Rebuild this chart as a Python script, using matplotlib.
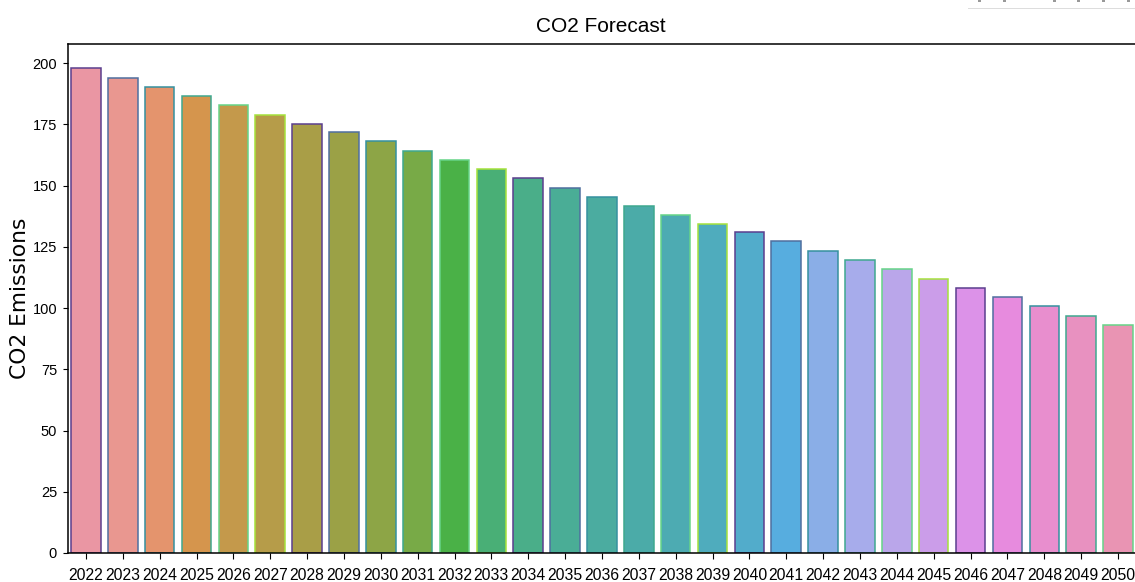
import matplotlib
matplotlib.use("Agg")
import matplotlib.pyplot as plt
from matplotlib.patches import Rectangle
import seaborn as sns

years = list(range(2022, 2051))
emissions = [198, 194, 190.3, 186.5, 182.7, 179, 175.2, 171.8, 168.2, 164.3,
             160.6, 156.8, 153, 149.2, 145.5, 141.8, 138, 134.2, 131, 127.2,
             123.4, 119.6, 115.8, 112, 108.2, 104.4, 100.7, 96.9, 93.2]
edge_cycle = ["#5b3f8e", "#4f6f9f", "#35919f", "#3fa88f", "#66d488", "#a6e23c"]
toolbar_icons = [979, 1004, 1054, 1078, 1103, 1128]

W, H = 1135, 582
ax_w = 1136.4 - 67.5
fig = plt.figure(figsize=(W / 100, H / 100), dpi=100)
ax = fig.add_axes([67.5 / W, (H - 553) / H, ax_w / W, (553 - 44) / H])

fills = [sns.desaturate(c, 0.75) for c in sns.husl_palette(len(years), l=0.7, s=0.9)]
edges = [edge_cycle[i % len(edge_cycle)] for i in range(len(years))]
xs = range(len(years))
ax.bar(xs, emissions, width=0.8, color=fills, edgecolor=edges, linewidth=1.1)

ax.set_xlim(-0.5, len(years) - 0.5)
ax.set_ylim(0, 207.8)
ax.set_xticks(list(xs))
ax.set_xticklabels(years, family="Liberation Sans", fontsize=11.3)
ax.set_yticks(range(0, 201, 25))
ax.tick_params(axis="y", labelsize=10.5, length=3.5, pad=4)
ax.tick_params(axis="x", length=4, pad=7)
for t in ax.get_yticklabels():
    t.set_family("Liberation Sans")
for s in ax.spines.values():
    s.set_linewidth(1.1)

ax.set_ylabel("CO2 Emissions", fontsize=15.7)
ax.yaxis.set_label_coords((30 - 67.5) / ax_w, 0.5)
ax.set_title("CO2 Forecast", family="Liberation Sans", fontsize=15, pad=9,
             x=(601 - 67.5) / ax_w)

# toolbar left over from the notebook screenshot
fig.add_artist(Rectangle((968 / W, (H - 9) / H), 170 / W, 12 / H, transform=fig.transFigure,
                         facecolor="#dddddd", edgecolor="none"))
fig.add_artist(Rectangle((967 / W, (H - 7.5) / H), 170 / W, 10 / H, transform=fig.transFigure,
                         facecolor="white", edgecolor="none"))
for px in toolbar_icons:
    fig.add_artist(Rectangle(((px - 1.5) / W, (H - 2) / H), 3 / W, 2 / H, transform=fig.transFigure,
                             facecolor="#999999", edgecolor="none"))

fig.savefig("out.png", dpi=100)
